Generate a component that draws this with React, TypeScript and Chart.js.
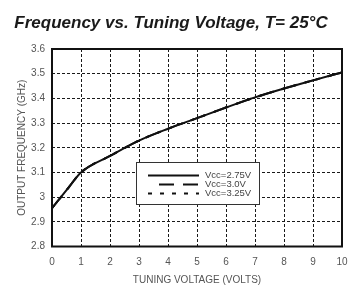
import React, { useEffect, useRef } from "react";
import { Chart, registerables } from "chart.js";

Chart.register(...registerables);

// ---- data ----
const tuningVoltage = [0, 0.5, 1, 2, 3, 4, 5, 6, 7, 8, 9, 10];
const freqVcc275 = [2.955, 3.028, 3.1, 3.167, 3.229, 3.277, 3.32, 3.363, 3.404, 3.44, 3.473, 3.505];
const freqVcc30 = [2.955, 3.028, 3.1, 3.167, 3.229, 3.277, 3.32, 3.363, 3.404, 3.44, 3.473, 3.505];
const freqVcc325 = [2.955, 3.028, 3.1, 3.167, 3.229, 3.277, 3.32, 3.363, 3.404, 3.44, 3.473, 3.505];
const seriesLabels = ["Vcc=2.75V", "Vcc=3.0V", "Vcc=3.25V"];
const xTicks = [0, 1, 2, 3, 4, 5, 6, 7, 8, 9, 10];
const yTicks = [2.8, 2.9, 3.0, 3.1, 3.2, 3.3, 3.4, 3.5, 3.6];

const FONT = "'Liberation Sans', Arial, Helvetica, sans-serif";

const toPts = (ys: number[]) => tuningVoltage.map((x, i) => ({ x, y: ys[i] }));

const framePlugin = {
  id: "frame",
  afterDatasetsDraw(chart: any) {
    const { ctx, chartArea: a } = chart;
    ctx.save();
    ctx.strokeStyle = "#111";
    ctx.lineWidth = 2;
    ctx.setLineDash([]);
    ctx.strokeRect(a.left, a.top, a.right - a.left, a.bottom - a.top);
    ctx.restore();
  },
};

const legendPlugin = {
  id: "boxLegend",
  afterDraw(chart: any) {
    const { ctx, chartArea: a } = chart;
    const bx = a.left + 84;
    const by = a.top + 113;
    const bw = 123;
    const bh = 42;
    ctx.save();
    ctx.fillStyle = "#fff";
    ctx.fillRect(bx, by, bw, bh);
    ctx.strokeStyle = "#333";
    ctx.lineWidth = 1;
    ctx.setLineDash([]);
    ctx.strokeRect(bx + 0.5, by + 0.5, bw, bh);
    const rows = [13.5, 22.5, 31.5];
    const starts = [12, 23, 12];
    chart.data.datasets.forEach((ds: any, i: number) => {
      const y = by + rows[i];
      ctx.strokeStyle = "#111";
      ctx.lineWidth = 2;
      ctx.setLineDash(ds.borderDash || []);
      ctx.lineDashOffset = 0;
      ctx.beginPath();
      ctx.moveTo(bx + starts[i], y);
      ctx.lineTo(bx + 63, y);
      ctx.stroke();
      ctx.setLineDash([]);
      ctx.fillStyle = "#444";
      ctx.font = `9.5px ${FONT}`;
      ctx.textBaseline = "middle";
      ctx.textAlign = "left";
      ctx.fillText(ds.label, bx + 69, y);
    });
    ctx.restore();
  },
};

export default function App() {
  const ref = useRef<HTMLCanvasElement>(null);
  useEffect(() => {
    if (!ref.current) return;
    const grid = {
      color: "#1a1a1a",
      lineWidth: 1,
      drawTicks: false,
    };
    const border = { display: false, dash: [3, 2] };
    const chart = new Chart(ref.current, {
      type: "line",
      data: {
        datasets: [
          {
            label: seriesLabels[0],
            data: toPts(freqVcc275),
            borderColor: "#111",
            borderWidth: 2,
            pointRadius: 0,
            cubicInterpolationMode: "monotone",
          },
          {
            label: seriesLabels[1],
            data: toPts(freqVcc30),
            borderColor: "#111",
            borderWidth: 2,
            borderDash: [15, 9],
            pointRadius: 0,
            cubicInterpolationMode: "monotone",
          },
          {
            label: seriesLabels[2],
            data: toPts(freqVcc325),
            borderColor: "#111",
            borderWidth: 2,
            borderDash: [4, 8],
            pointRadius: 0,
            cubicInterpolationMode: "monotone",
          },
        ],
      },
      options: {
        animation: false,
        responsive: false,
        devicePixelRatio: 1,
        layout: { padding: { top: 0, right: 16, left: 0, bottom: 0 } },
        plugins: {
          legend: { display: false },
          tooltip: { enabled: false },
          title: {
            display: true,
            text: "Frequency vs. Tuning Voltage, T= 25°C",
            color: "#1a1a1a",
            font: { family: FONT, size: 17, weight: "bold", style: "italic" },
            padding: { top: 13, bottom: 15.6 },
          },
        },
        scales: {
          x: {
            type: "linear",
            min: 0,
            max: 10,
            afterBuildTicks: (s: any) => {
              s.ticks = xTicks.map((v) => ({ value: v }));
            },
            afterFit: (s: any) => {
              s.height = 46.5;
            },
            border,
            grid,
            ticks: {
              color: "#555",
              font: { family: FONT, size: 10 },
              padding: 10,
              maxRotation: 0,
              autoSkip: false,
            },
            title: {
              display: true,
              text: "TUNING VOLTAGE (VOLTS)",
              color: "#555",
              font: { family: FONT, size: 10 },
              padding: { top: 0, bottom: 7 },
            },
          },
          y: {
            type: "linear",
            min: 2.8,
            max: 3.6,
            afterBuildTicks: (s: any) => {
              s.ticks = yTicks.map((v) => ({ value: v }));
            },
            afterFit: (s: any) => {
              s.width = 52;
            },
            border,
            grid,
            ticks: {
              color: "#555",
              font: { family: FONT, size: 10 },
              padding: 7,
              autoSkip: false,
              callback: (v: any) => String(+Number(v).toFixed(1)),
            },
            title: {
              display: true,
              text: "OUTPUT FREQUENCY (GHz)",
              color: "#555",
              font: { family: FONT, size: 10 },
              padding: { top: 16, bottom: 0 },
            },
          },
        },
      } as any,
      plugins: [framePlugin, legendPlugin],
    });
    return () => chart.destroy();
  }, []);
  return (
    <div style={{ position: "absolute", left: 0, top: 0, width: 358, height: 293, background: "#fff" }}>
      <canvas ref={ref} width={358} height={293} style={{ display: "block" }} />
    </div>
  );
}
